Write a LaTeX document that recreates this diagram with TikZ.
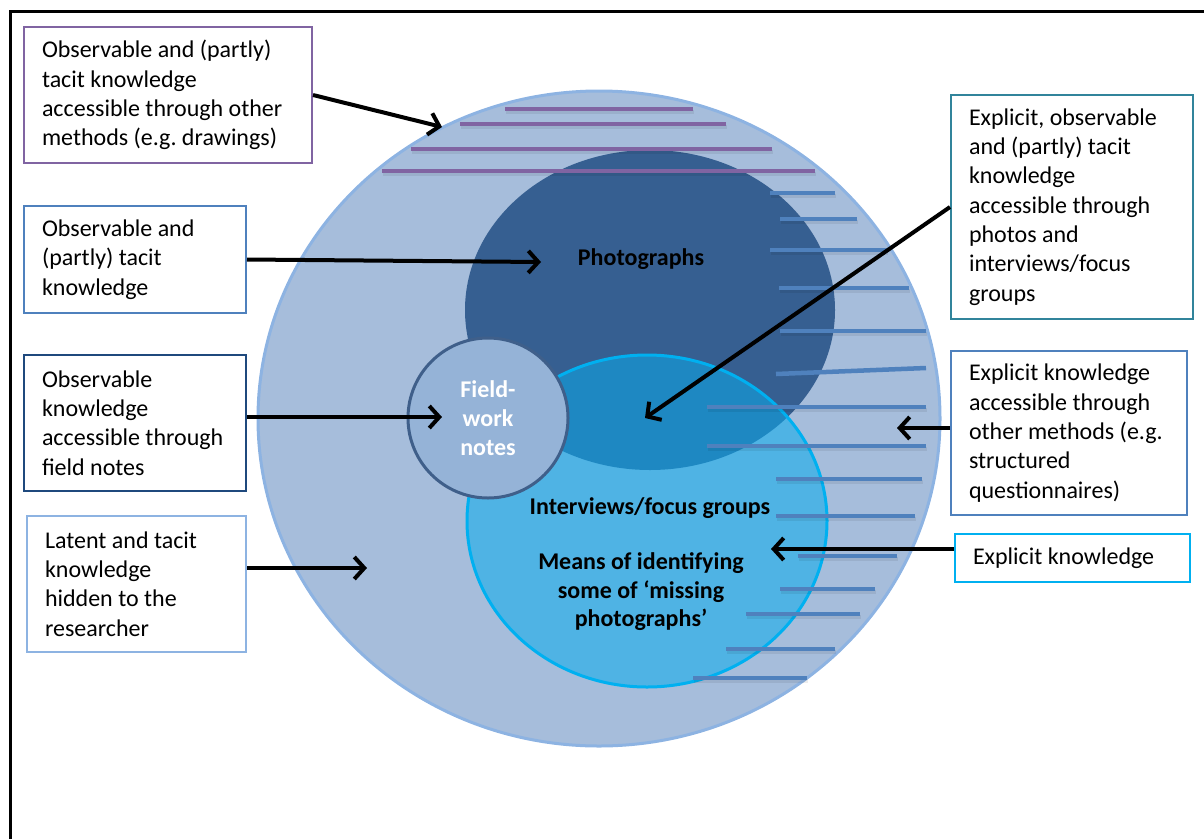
\documentclass[tikz,border=0pt]{standalone}
\usepackage{fontspec}
\setmainfont{Carlito}
\frenchspacing
\usetikzlibrary{arrows.meta,positioning}
\definecolor{outer}{HTML}{A6BDDB}
\definecolor{outerrim}{HTML}{8DB3E2}
\definecolor{photo}{HTML}{365F91}
\definecolor{talk}{HTML}{4FB3E4}
\definecolor{talkrim}{HTML}{00B0F0}
\definecolor{overlap}{HTML}{1E88C2}
\definecolor{notes}{HTML}{95B3D7}
\definecolor{notesrim}{HTML}{3F5F8A}
\definecolor{violet}{HTML}{8064A2}
\definecolor{steel}{HTML}{4F81BD}
\definecolor{navy}{HTML}{1F497D}
\definecolor{teal}{HTML}{31849B}
\tikzset{
  every picture/.style={x=1pt, y=-1pt, font=\fontsize{24}{29.3}\selectfont},
  card/.style={draw, line width=2pt, fill=white, align=flush left, anchor=north west, inner xsep=18pt, inner ysep=0pt},
  inside/.style={font=\fontsize{24}{29.3}\selectfont\bfseries, align=center},
  flow/.style={-{Straight Barb[length=10pt, width=22pt]}, line width=4pt, draw=black},
  band/.style={line width=4.5pt},
}

\begin{document}
\begin{tikzpicture}
\useasboundingbox (0,0) rectangle (1204,839);
\draw[line width=3pt] (10.5,839) -- (10.5,11.5) -- (1204,11.5);

% the three kinds of knowledge
\fill[outer] (599,418.5) ellipse [x radius=341pt, y radius=327.5pt];
\draw[outerrim, line width=3pt] (599,418.5) ellipse [x radius=341pt, y radius=327.5pt];
\fill[photo] (650,310) ellipse [x radius=185pt, y radius=160pt];
\fill[talk] (647,521) ellipse [x radius=180pt, y radius=166pt];
\begin{scope}
  \clip (650,310) ellipse [x radius=185pt, y radius=160pt];
  \fill[overlap] (647,521) ellipse [x radius=180pt, y radius=166pt];
\end{scope}
\draw[talkrim, line width=3pt] (647,521) ellipse [x radius=180pt, y radius=166pt];

% stripes
\foreach \y/\a/\b in {109/505/693, 124/460/726, 149/411/772, 171/382/815}{
  \draw[band, black, opacity=0.07] (\a+1,\y+3) -- (\b+1,\y+3);
  \draw[band, violet] (\a,\y) -- (\b,\y);}
\foreach \y/\a/\b in {193/770/835, 219/780/857, 250/770/887, 288/779/909, 331/780/926,
  407/707/926, 446/707/926, 479/776/922, 516/776/915, 556/798/897, 589/780/875,
  614/746/860, 649/726/835, 678/693/807}{
  \draw[band, black, opacity=0.07] (\a+1,\y+3) -- (\b+1,\y+3);
  \draw[band, steel] (\a,\y) -- (\b,\y);}
\draw[band, steel] (776,374) -- (926,368);

\node[circle, fill=notes, draw=notesrim, line width=3pt, minimum size=160pt, inside, text=white] (fieldwork) at (488,418) {Field-\\work\\notes};
\node[inside] (photos) at (641,259) {Photographs};
\node[inside] (groups) at (650,508) {Interviews/focus groups};
\node[inside, font=\fontsize{24}{28.5}\selectfont\bfseries] (missing) at (641,592) {Means of identifying\\some of ‘missing\\photographs’};

% boxes
\node[card, draw=violet, text width=252pt, minimum width=288pt, minimum height=136pt] (drawings) at (23,26) {Observable and (partly)\\tacit knowledge\\accessible through other\\methods (e.g. drawings)};
\node[card, draw=steel, text width=186pt, minimum width=222pt, minimum height=107pt] (tacit) at (23,205) {Observable and\\(partly) tacit\\knowledge};
\node[card, draw=navy, text width=186pt, minimum width=222pt, minimum height=136pt] (fieldnotes) at (23,354) {Observable\\knowledge\\accessible through\\field notes};
\node[card, draw=outerrim, text width=183pt, minimum width=219pt, minimum height=136pt] (latent) at (26,515) {Latent and tacit\\knowledge\\hidden to the\\researcher};
\node[card, draw=teal, text width=206pt, minimum width=242pt, minimum height=224pt] (explicitall) at (950,94) {Explicit, observable\\and (partly) tacit\\knowledge\\accessible through\\photos and\\interviews/focus\\groups};
\node[card, draw=steel, text width=200pt, minimum width=236pt, minimum height=164pt] (explicitother) at (950,350) {Explicit knowledge\\accessible through\\other methods (e.g.\\structured\\questionnaires)};
\node[card, draw=talkrim, text width=199pt, minimum width=235pt, minimum height=48pt] (explicit) at (954,533) {Explicit knowledge};

% arrows
\coordinate (toDrawings) at (442,127);
\coordinate (toPhotos) at (541,262);
\coordinate (toNotes) at (442,417);
\coordinate (toHidden) at (367,568);
\coordinate (toOverlap) at (645,418);
\coordinate (toOthers) at (897,428);
\coordinate (toMeans) at (771,549);
\draw[flow] (drawings.east) -- (toDrawings);
\draw[flow] (tacit.east) -- (toPhotos);
\draw[flow] (toNotes -| fieldnotes.east) -- (toNotes);
\draw[flow] (toHidden -| latent.east) -- (toHidden);
\draw[flow] (explicitall.west) -- (toOverlap);
\draw[flow] (toOthers -| explicitother.west) -- (toOthers);
\draw[flow] (toMeans -| explicit.west) -- (toMeans);
\end{tikzpicture}
\end{document}
